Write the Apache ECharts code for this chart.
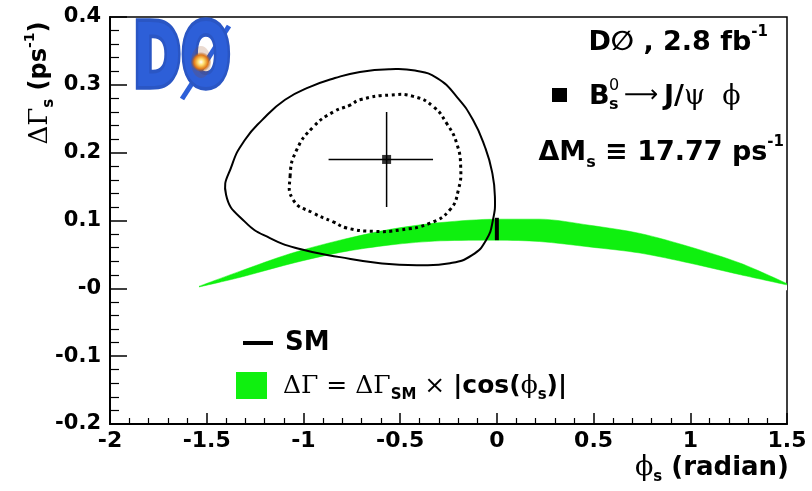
<!DOCTYPE html>
<html><head><meta charset="utf-8">
<script src="https://cdn.jsdelivr.net/npm/echarts@6/dist/echarts.min.js"></script>
<style>html,body{margin:0;padding:0;background:#fff}#c{width:812px;height:491px}</style>
</head><body><div id="c"></div>
<script>
// ---- tick labels ----
const yTicks = [-0.2, -0.1, 0, 0.1, 0.2, 0.3, 0.4];
const yTickLabels = ['-0.2', '-0.1', '-0', '0.1', '0.2', '0.3', '0.4'];
const xTicks = [-2, -1.5, -1, -0.5, 0, 0.5, 1, 1.5];
const xTickLabels = ['-2', '-1.5', '-1', '-0.5', '0', '0.5', '1', '1.5'];

// ---- green band  ΔΓ = ΔΓ_SM × |cos φs| ----
const bandPhi   = [-1.54, -1.33, -1.07, -0.81, -0.55, -0.29, 0.00, 0.22, 0.48, 0.74, 1.00, 1.26, 1.50];
const bandUpper = [0.003, 0.025, 0.051, 0.071, 0.087, 0.097, 0.102, 0.102, 0.093, 0.081, 0.061, 0.037, 0.007];
const bandLower = [0.002, 0.016, 0.036, 0.053, 0.064, 0.070, 0.071, 0.069, 0.061, 0.052, 0.037, 0.020, 0.005];

// ---- solid contour ----
const solidPhi = [-1.400, -1.369, -1.302, -1.214, -1.095, -0.966, -0.837, -0.708, -0.552, -0.423, -0.309, -0.206, -0.123, -0.061, -0.025, -0.010, -0.020, -0.056, -0.128, -0.242, -0.413, -0.604, -0.811, -1.018, -1.173, -1.302];
const solidDG  = [0.138, 0.182, 0.219, 0.248, 0.278, 0.297, 0.310, 0.319, 0.323, 0.321, 0.310, 0.282, 0.248, 0.208, 0.172, 0.135, 0.101, 0.071, 0.049, 0.037, 0.034, 0.037, 0.046, 0.058, 0.074, 0.098];

// ---- dotted contour ----
const dotPhi = [-1.069, -1.035, -0.949, -0.846, -0.759, -0.708, -0.552, -0.432, -0.329, -0.259, -0.208, -0.187, -0.199, -0.242, -0.346, -0.501, -0.639, -0.776, -0.846, -0.949, -1.052];
const dotDG  = [0.165, 0.204, 0.238, 0.260, 0.270, 0.278, 0.285, 0.283, 0.268, 0.243, 0.214, 0.179, 0.145, 0.116, 0.096, 0.086, 0.084, 0.089, 0.098, 0.111, 0.130];

// ---- measurement ----
const bestPhi = [-0.57];
const bestDG = [0.19];
const errPhi = [-0.87, -0.33];
const errDG = [0.12, 0.26];

// ---- SM ----
const smPhi = [0.0];
const smDG = [0.071, 0.104];

const FONT = 'DejaVu Sans';
const GREEN = '#0ff00f';
const chart = echarts.init(document.getElementById('c'));

function lookup(ticks, labels, v) {
  for (let i = 0; i < ticks.length; i++) if (Math.abs(ticks[i] - v) < 1e-6) return labels[i];
  return '';
}
function polyRender(points, style, smooth) {
  return function (params, api) {
    if (params.dataIndex !== 0) return null;
    const pts = points.map(p => api.coord(p));
    return { type: 'polygon', shape: { points: pts, smooth: smooth }, style: style };
  };
}
const solidPts = solidPhi.map((p, i) => [p, solidDG[i]]);
const dotPts = dotPhi.map((p, i) => [p, dotDG[i]]);

const option = {
  backgroundColor: '#fff',
  animation: false,
  grid: { left: 110, right: 25, top: 17, bottom: 67, show: true, borderColor: '#000', borderWidth: 1.5, backgroundColor: 'transparent' },
  xAxis: {
    type: 'value', min: -2, max: 1.5, interval: 0.5,
    axisLine: { show: true, onZero: false, lineStyle: { color: '#000', width: 2 } },
    axisTick: { show: true, inside: true, length: 11, lineStyle: { color: '#000', width: 1.5 } },
    minorTick: { show: true, splitNumber: 5, length: 6, lineStyle: { color: '#000', width: 1.2 } },
    splitLine: { show: false },
    axisLabel: { margin: 6, color: '#000', fontFamily: FONT, fontWeight: 'bold', fontSize: 22,
      formatter: v => lookup(xTicks, xTickLabels, v) }
  },
  yAxis: {
    type: 'value', min: -0.2, max: 0.4, interval: 0.1,
    axisLine: { show: true, onZero: false, lineStyle: { color: '#000', width: 2 } },
    axisTick: { show: true, inside: true, length: 17, lineStyle: { color: '#000', width: 1.5 } },
    minorTick: { show: true, splitNumber: 5, length: 9, lineStyle: { color: '#000', width: 1.2 } },
    splitLine: { show: false },
    axisLabel: { margin: 9, color: '#000', fontFamily: FONT, fontWeight: 'bold', fontSize: 21, padding: [6, 0, 0, 0],
      formatter: v => lookup(yTicks, yTickLabels, v) }
  },
  series: [
    // band: upper edge filled green down to zero, lower edge filled white down to just below zero
    { type: 'line', data: bandPhi.map((p, i) => [p, bandUpper[i]]), symbol: 'none', z: 1,
      smooth: 0.3, lineStyle: { color: GREEN, width: 0.5 }, areaStyle: { color: GREEN, opacity: 1, origin: 0 } },
    { type: 'line', data: bandPhi.map((p, i) => [p, bandLower[i]]), symbol: 'none', z: 2,
      smooth: 0.3, lineStyle: { color: GREEN, width: 0.5 }, areaStyle: { color: '#fff', opacity: 1, origin: -0.003 } },
    { type: 'line', data: [[smPhi[0], smDG[0]], [smPhi[0], smDG[1]]], symbol: 'none', z: 3,
      lineStyle: { color: '#000', width: 4 } },
    { type: 'custom', clip: true, data: solidPts, encode: { x: 0, y: 1 }, z: 4,
      renderItem: polyRender(solidPts, { fill: 'none', stroke: '#000', lineWidth: 2 }, 0.5) },
    { type: 'custom', clip: true, data: dotPts, encode: { x: 0, y: 1 }, z: 4,
      renderItem: polyRender(dotPts, { fill: 'none', stroke: '#000', lineWidth: 3, lineDash: [3, 3.5] }, 0.5) },
    { type: 'line', data: [[errPhi[0], bestDG[0]], [errPhi[1], bestDG[0]]], symbol: 'none', z: 5,
      lineStyle: { color: '#000', width: 1.5 } },
    { type: 'line', data: [[bestPhi[0], errDG[0]], [bestPhi[0], errDG[1]]], symbol: 'none', z: 5,
      lineStyle: { color: '#000', width: 1.5 } },
    { type: 'scatter', data: [[bestPhi[0], bestDG[0]]], symbol: 'rect', symbolSize: 9, z: 6,
      itemStyle: { color: '#000' } }
  ],
  graphic: [
    // DØ logo (approximation)
    { type: 'line', shape: { x1: 182, y1: 99, x2: 229, y2: 26 }, style: { stroke: '#2d5fd8', lineWidth: 5 }, z: 9 },
    { type: 'text', x: 133, y: 63, scaleY: 1.5, z: 10,
      style: { text: 'DO', font: 'bold 58px ' + FONT, fill: '#2d5fd8', stroke: '#2a56c4', lineWidth: 5, textVerticalAlign: 'middle' } },
    { type: 'ellipse', shape: { cx: 201, cy: 62, rx: 10, ry: 16 }, z: 11,
      style: { fill: { type: 'radial', x: 0.5, y: 0.5, r: 0.5,
        colorStops: [{ offset: 0, color: '#ffffff' }, { offset: 0.3, color: '#ffe070' }, { offset: 0.7, color: '#e07818' }, { offset: 1, color: 'rgba(150,70,20,0.2)' }] } } },
    // y axis title
    { type: 'text', x: 40, y: 83, rotation: Math.PI / 2, z: 10,
      style: { text: '{g|ΔΓ}{sub|s}{t| (ps}{sup|-1}{t|)}', textAlign: 'center', textVerticalAlign: 'middle',
        rich: {
          g: { fontFamily: 'DejaVu Serif', fontSize: 26, lineHeight: 34, verticalAlign: 'middle', fill: '#000' },
          t: { fontFamily: FONT, fontWeight: 'bold', fontSize: 24, lineHeight: 34, verticalAlign: 'middle', fill: '#000' },
          sub: { fontFamily: FONT, fontWeight: 'bold', fontSize: 15, lineHeight: 15, verticalAlign: 'bottom', fill: '#000' },
          sup: { fontFamily: FONT, fontWeight: 'bold', fontSize: 14, lineHeight: 14, verticalAlign: 'top', fill: '#000' }
        } } },
    // x axis title
    { type: 'text', x: 789, y: 468, z: 10,
      style: { text: '{g|ϕ}{sub|s}{t| (radian)}', textAlign: 'right', textVerticalAlign: 'middle',
        rich: {
          g: { fontFamily: 'DejaVu Serif', fontSize: 27, lineHeight: 34, verticalAlign: 'middle', fill: '#000' },
          t: { fontFamily: FONT, fontWeight: 'bold', fontSize: 26, lineHeight: 34, verticalAlign: 'middle', fill: '#000' },
          sub: { fontFamily: FONT, fontWeight: 'bold', fontSize: 15, lineHeight: 15, verticalAlign: 'bottom', fill: '#000' }
        } } },
    // top-right labels
    { type: 'text', x: 768, y: 43, z: 10,
      style: { text: '{t|D∅ , 2.8 fb}{sup|-1}', textAlign: 'right', textVerticalAlign: 'middle',
        rich: {
          t: { fontFamily: FONT, fontWeight: 'bold', fontSize: 27, lineHeight: 36, verticalAlign: 'middle', fill: '#000' },
          sup: { fontFamily: FONT, fontWeight: 'bold', fontSize: 15, lineHeight: 15, verticalAlign: 'top', fill: '#000' }
        } } },
    { type: 'rect', shape: { x: 552, y: 88, width: 15, height: 14 }, style: { fill: '#000' }, z: 10 },
    { type: 'text', x: 589, y: 97, z: 10,
      style: { text: 'B', font: 'bold 27px ' + FONT, fill: '#000', textVerticalAlign: 'middle' } },
    { type: 'text', x: 609, y: 86, z: 10,
      style: { text: '0', font: '16px ' + FONT, fill: '#000', textVerticalAlign: 'middle' } },
    { type: 'text', x: 609, y: 105, z: 10,
      style: { text: 's', font: 'bold 16px ' + FONT, fill: '#000', textVerticalAlign: 'middle' } },
    { type: 'text', x: 624, y: 96, z: 10,
      style: { text: '⟶', font: '24px ' + FONT, fill: '#000', textVerticalAlign: 'middle' } },
    { type: 'text', x: 664, y: 97, z: 10,
      style: { text: '{t|J/}{g|ψ  ϕ}', textVerticalAlign: 'middle',
        rich: {
          t: { fontFamily: FONT, fontWeight: 'bold', fontSize: 27, lineHeight: 34, verticalAlign: 'middle', fill: '#000' },
          g: { fontFamily: 'DejaVu Serif', fontSize: 27, lineHeight: 34, verticalAlign: 'middle', fill: '#000' }
        } } },
    { type: 'text', x: 784, y: 153, z: 10,
      style: { text: '{t|ΔM}{sub|s}{t| ≡ 17.77 ps}{sup|-1}', textAlign: 'right', textVerticalAlign: 'middle',
        rich: {
          t: { fontFamily: FONT, fontWeight: 'bold', fontSize: 27, lineHeight: 36, verticalAlign: 'middle', fill: '#000' },
          sub: { fontFamily: FONT, fontWeight: 'bold', fontSize: 16, lineHeight: 16, verticalAlign: 'bottom', fill: '#000' },
          sup: { fontFamily: FONT, fontWeight: 'bold', fontSize: 15, lineHeight: 15, verticalAlign: 'top', fill: '#000' }
        } } },
    // legend
    { type: 'line', shape: { x1: 243, y1: 343, x2: 273, y2: 343 }, style: { stroke: '#000', lineWidth: 4 }, z: 10 },
    { type: 'text', x: 285, y: 343, z: 10,
      style: { text: 'SM', font: 'bold 26px ' + FONT, fill: '#000', textVerticalAlign: 'middle' } },
    { type: 'rect', shape: { x: 236, y: 372, width: 31, height: 27 }, style: { fill: GREEN }, z: 10 },
    { type: 'text', x: 283, y: 386, z: 10,
      style: { text: '{g|ΔΓ = ΔΓ}{sub|SM}{g| × }{t||cos(}{g|ϕ}{sub|s}{t|)|}', textVerticalAlign: 'middle',
        rich: {
          g: { fontFamily: 'DejaVu Serif', fontSize: 25, lineHeight: 34, verticalAlign: 'middle', fill: '#000' },
          t: { fontFamily: FONT, fontWeight: 'bold', fontSize: 25, lineHeight: 34, verticalAlign: 'middle', fill: '#000' },
          sub: { fontFamily: FONT, fontWeight: 'bold', fontSize: 15, lineHeight: 15, verticalAlign: 'bottom', fill: '#000' }
        } } }
  ]
};
chart.setOption(option);
</script></body></html>
